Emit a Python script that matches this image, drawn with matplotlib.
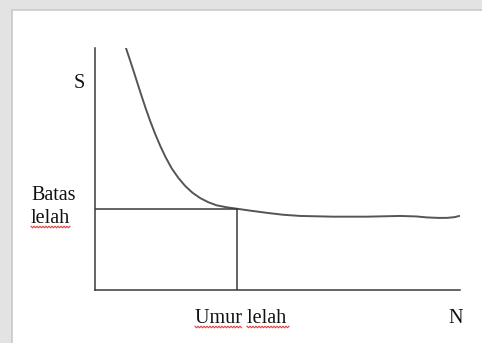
import numpy as np
import matplotlib
matplotlib.use("Agg")
import matplotlib.pyplot as plt
from matplotlib.patches import Rectangle
from matplotlib.lines import Line2D

# S-N curve (arbitrary units, axes run 0..100)
n_vals = [8.5, 9.5, 10.5, 11.6, 12.8, 13.9, 15.1, 16.4, 17.8, 19.3, 21.0, 22.8,
          24.7, 26.7, 28.8, 31.0, 33.3, 36.0, 38.8, 42.5, 47.0, 51.5, 56.2,
          65.3, 74.4, 83.6, 88.0, 90.9, 94.0, 96.4, 98.5, 99.8]
s_vals = [99.9, 95.4, 90.8, 85.6, 80.0, 75.0, 69.9, 64.8, 59.8, 55.0, 50.3, 46.4,
          43.0, 40.2, 38.0, 36.3, 35.0, 34.2, 33.6, 32.8, 31.9, 31.1, 30.6,
          30.3, 30.3, 30.6, 30.4, 30.0, 29.8, 29.8, 30.1, 30.6]
batas_lelah = 33.6   # fatigue limit
umur_lelah = 39.0    # fatigue life

W, H = 482, 343
fig = plt.figure(figsize=(W / 100, H / 100), dpi=100)
fig.patch.set_facecolor("#e3e3e3")

# white page box, kept behind the axes
fig.patches.append(Rectangle((12 / W, -0.05), 1.1, 1 - 10 / H + 0.05,
                             transform=fig.transFigure, facecolor="white",
                             edgecolor="#c9c9c9", linewidth=1.2, zorder=-5))

ax = fig.add_axes([95 / W, 53 / H, 365 / W, 242 / H])
ax.set_facecolor("none")
ax.set_xlim(0, 100)
ax.set_ylim(0, 100)
for side in ["top", "right"]:
    ax.spines[side].set_visible(False)
for side in ["left", "bottom"]:
    ax.spines[side].set_color("#3a3a3a")
    ax.spines[side].set_linewidth(1.1)
ax.set_xticks([])
ax.set_yticks([])

ax.plot(n_vals, s_vals, color="#555555", lw=1.4, solid_capstyle="round",
        solid_joinstyle="round")
ax.plot([0, umur_lelah], [batas_lelah, batas_lelah], color="#3a3a3a", lw=1.1)
ax.plot([umur_lelah, umur_lelah], [0, batas_lelah], color="#3a3a3a", lw=1.1)

font = dict(family="Liberation Serif", fontsize=14.5, color="#111111")


def ftext(x, y, s, **kw):
    fig.text(x / W, 1 - y / H, s, va="baseline", **font, **kw)


def squiggle(x0, x1, y):
    xs = np.arange(x0, x1 + 0.1, 1.5)
    ys = y + np.where(np.arange(len(xs)) % 2 == 0, -0.8, 0.8)
    fig.lines.append(Line2D(xs / W, 1 - ys / H, transform=fig.transFigure,
                            color="#e04040", lw=0.8))


ftext(79, 88, "S", ha="center")
ftext(31, 200, "Batas")
ftext(31, 223, "lelah")
ftext(195, 323, "Umur lelah")
ftext(448, 323, "N")

squiggle(31, 70, 227)
squiggle(195, 242, 327)
squiggle(247, 289, 327)

fig.savefig("out.png", dpi=100)
